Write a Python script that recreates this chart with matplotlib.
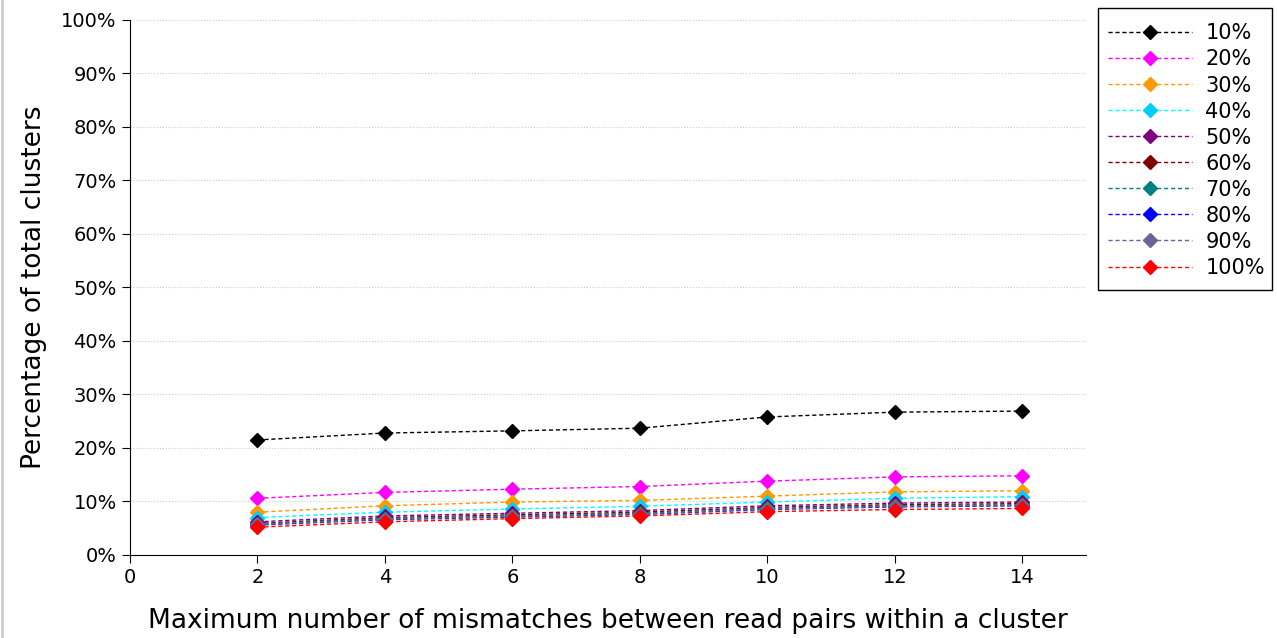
import matplotlib
matplotlib.use("Agg")
import matplotlib.pyplot as plt
from matplotlib.patches import Rectangle
from matplotlib.ticker import FuncFormatter

mismatches = [2, 4, 6, 8, 10, 12, 14]
labels = ["10%", "20%", "30%", "40%", "50%", "60%", "70%", "80%", "90%", "100%"]
s10 = [21.5, 22.8, 23.2, 23.7, 25.8, 26.7, 26.9]
s20 = [10.6, 11.7, 12.3, 12.8, 13.8, 14.6, 14.8]
s30 = [8.0, 9.2, 9.9, 10.2, 11.0, 11.8, 12.0]
s40 = [7.0, 8.0, 8.6, 9.1, 9.9, 10.6, 10.9]
s50 = [6.2, 7.3, 7.8, 8.3, 9.2, 9.7, 9.9]
s60 = [5.9, 7.0, 7.5, 8.0, 8.9, 9.4, 9.6]
s70 = [5.8, 6.8, 7.3, 7.8, 8.7, 9.2, 9.4]
s80 = [5.6, 6.6, 7.1, 7.6, 8.5, 9.0, 9.2]
s90 = [5.7, 6.7, 7.2, 7.7, 8.6, 9.1, 9.3]
s100 = [5.2, 6.2, 6.8, 7.3, 8.1, 8.5, 8.7]
series = [s10, s20, s30, s40, s50, s60, s70, s80, s90, s100]

line_colors = ["#000000", "#ff00ff", "#ff9900", "#00ffff", "#800080",
               "#800000", "#008080", "#0000ff", "#666699", "#ff0000"]
marker_colors = ["#000000", "#ff00ff", "#ff9900", "#00ccff", "#800080",
                 "#800000", "#008080", "#0000ff", "#666699", "#ff0000"]

W, H = 1277, 638
fig = plt.figure(figsize=(W / 100, H / 100), dpi=100)
ax = fig.add_axes([0.1018, 0.1301, 0.7486, 0.8386])

for vals, lab, lc, mc in zip(series, labels, line_colors, marker_colors):
    ax.plot(mismatches, vals, linestyle="--", color=lc, linewidth=1,
            marker="D", markersize=7.5, markerfacecolor=mc,
            markeredgecolor=mc, label=lab, dashes=(3, 2))

ax.set_xlim(0, 15)
ax.set_ylim(0, 100)
ax.set_xticks([0, 2, 4, 6, 8, 10, 12, 14])
ax.set_yticks(range(0, 101, 10))
ax.yaxis.set_major_formatter(FuncFormatter(lambda v, p: f"{int(v)}%"))
ax.tick_params(labelsize=14, direction="out", length=6)
ax.spines["top"].set_visible(False)
ax.spines["right"].set_visible(False)
ax.yaxis.grid(True, linestyle=":", color="#cccccc", linewidth=0.8)
ax.set_axisbelow(True)
ax.set_xlabel("Maximum number of mismatches between read pairs within a cluster",
              fontsize=19, labelpad=15)
ax.set_ylabel("Percentage of total clusters", fontsize=19, labelpad=10)

# legend box frame
fig.add_artist(Rectangle((1098 / W, 1 - 290 / H), 174 / W, 282 / H,
                         transform=fig.transFigure, fill=True, facecolor="white",
                         edgecolor="black", linewidth=1.0, zorder=1))
leg = fig.legend(loc="upper left", bbox_to_anchor=(1098 / W, 1 - 13 / H),
                 fontsize=15, frameon=False,
                 handlelength=4.0, labelspacing=0.29,
                 borderpad=0.5, handletextpad=0.65, borderaxespad=0)
leg.set_zorder(2)

fig.add_artist(plt.Line2D([0.0015, 0.0015], [0, 1], color="#cccccc", linewidth=2,
                          transform=fig.transFigure))

fig.savefig("out.png", dpi=100)
